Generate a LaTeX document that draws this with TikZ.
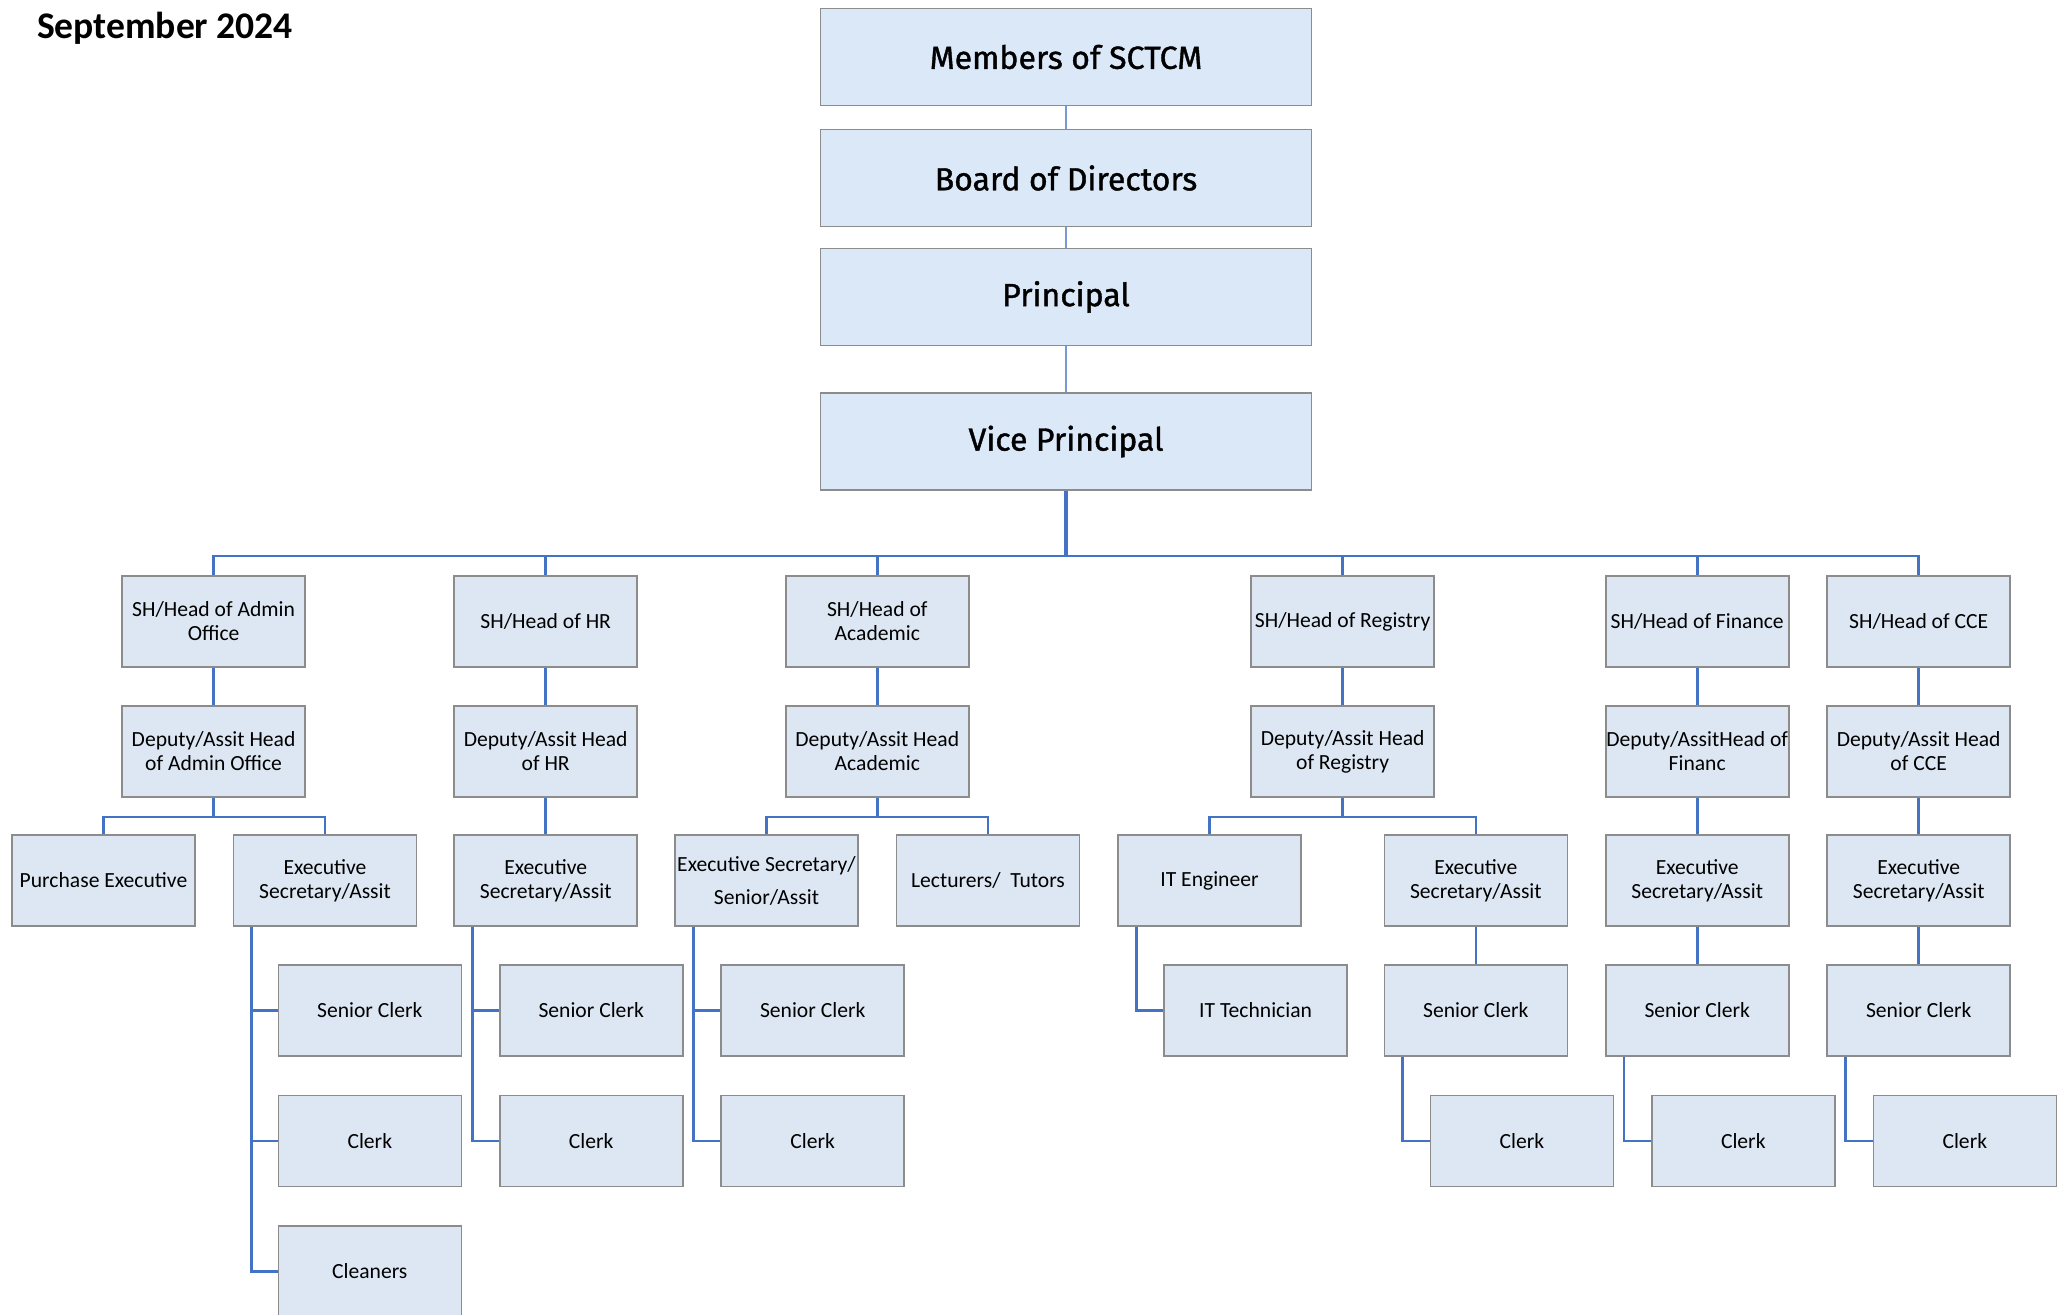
\documentclass[tikz,border=0pt]{standalone}
\usepackage{fontspec}
\setmainfont{Carlito}
\newfontfamily\headfont{Fira Sans}[FakeBold=1.2]
\usetikzlibrary{calc}
\definecolor{topfill}{RGB}{218,232,247}
\definecolor{boxfill}{RGB}{221,231,243}
\definecolor{boxline}{RGB}{140,140,140}
\definecolor{linkblue}{RGB}{68,114,196}
\definecolor{toplinkblue}{RGB}{122,152,214}

\begin{document}
\begin{tikzpicture}[x=0.5pt,y=-0.5pt,
        topbox/.style={draw=boxline, line width=0.8pt, fill=topfill, minimum width=245.5pt,
          minimum height=48.5pt, inner sep=0pt, font=\headfont\fontsize{16}{19}\selectfont},
        box/.style={draw=boxline, line width=0.8pt, fill=boxfill, minimum width=91.5pt,
          minimum height=45.5pt, inner sep=0pt, align=center, font=\fontsize{10.8}{12}\selectfont},
        toplink/.style={draw=toplinkblue, line width=0.6pt},
        link/.style={draw=linkblue, line width=1.3pt}]
        \useasboundingbox (0,0) rectangle (2067,1314);
        % Title
        \node[anchor=west, font=\bfseries\fontsize{18.8}{22}\selectfont] (title) at (30,28) {September 2024};
        % Top of the chart
        \node[topbox] (members) at (1066,57) {Members of SCTCM};
        \node[topbox] (board) at (1066,178) {Board of Directors};
        \node[topbox] (principal) at (1066,297) {Principal};
        \node[topbox] (vp) at (1066,441.5) {Vice Principal};
        % Heads of sections
        \node[box] (admin) at (213.6,621.5) {SH/Head of Admin\\Office};
        \node[box] (hr) at (545.7,621.5) {SH/Head of HR};
        \node[box] (acad) at (877.3,621.5) {SH/Head of\\Academic};
        \node[box] (reg) at (1342.6,621.5) {SH/Head of Registry};
        \node[box] (fin) at (1697.2,621.5) {SH/Head of Finance};
        \node[box] (cce) at (1918.7,621.5) {SH/Head of CCE};
        % Deputies
        \node[box] (admindep) at (213.6,751.4) {Deputy/Assit Head\\of Admin Office};
        \node[box] (hrdep) at (545.7,751.4) {Deputy/Assit Head\\of HR};
        \node[box] (acaddep) at (877.3,751.4) {Deputy/Assit Head\\Academic};
        \node[box] (regdep) at (1342.6,751.4) {Deputy/Assit Head\\of Registry};
        \node[box] (findep) at (1697.2,751.4) {Deputy/AssitHead of\\Financ};
        \node[box] (ccedep) at (1918.7,751.4) {Deputy/Assit Head\\of CCE};
        % Third row
        \node[box] (purch) at (103.5,880.5) {Purchase Executive};
        \node[box] (adminexec) at (325,880.5) {Executive\\Secretary/Assit};
        \node[box] (hrexec) at (545.7,880.5) {Executive\\Secretary/Assit};
        \node[box, font=\fontsize{10.8}{16.5}\selectfont] (acadexec) at (766.5,880.5) {Executive Secretary/\\Senior/Assit};
        \node[box] (lect) at (988,880.5) {Lecturers/\ \ Tutors};
        \node[box] (iteng) at (1209.5,880.5) {IT Engineer};
        \node[box] (regexec) at (1475.8,880.5) {Executive\\Secretary/Assit};
        \node[box] (finexec) at (1697.2,880.5) {Executive\\Secretary/Assit};
        \node[box] (cceexec) at (1918.7,880.5) {Executive\\Secretary/Assit};
        % Senior clerks
        \node[box] (adminsc) at (369.8,1010.4) {Senior Clerk};
        \node[box] (hrsc) at (591.2,1010.4) {Senior Clerk};
        \node[box] (acadsc) at (812.7,1010.4) {Senior Clerk};
        \node[box] (ittech) at (1255.6,1010.4) {IT Technician};
        \node[box] (regsc) at (1475.8,1010.4) {Senior Clerk};
        \node[box] (finsc) at (1697.2,1010.4) {Senior Clerk};
        \node[box] (ccesc) at (1918.7,1010.4) {Senior Clerk};
        % Clerks
        \node[box] (adminclerk) at (369.8,1140.9) {Clerk};
        \node[box] (hrclerk) at (591.2,1140.9) {Clerk};
        \node[box] (acadclerk) at (812.7,1140.9) {Clerk};
        \node[box] (regclerk) at (1521.9,1140.9) {Clerk};
        \node[box] (finclerk) at (1743.3,1140.9) {Clerk};
        \node[box] (cceclerk) at (1964.8,1140.9) {Clerk};
        \node[box] (cleaners) at (369.8,1271.4) {Cleaners};
        %
        % Links between the top boxes
        \draw[toplink] (members) -- (board);
        \draw[toplink] (board) -- (principal);
        \draw[toplink] (principal) -- (vp);
        % Links to the heads
        \coordinate (bus) at (1066,556);
        \draw[link, line width=1.6pt] (vp) -- (bus);
        \foreach \n in {admin,hr,acad,reg,fin,cce}
          \draw[link] (bus) -| (\n);
        \foreach \n in {admin,hr,acad,reg,fin,cce}
          \draw[link] (\n) -- (\n dep);
        % Branches below the deputies
        \coordinate (adminsub) at (213.6,817);
        \coordinate (acadsub) at (877.3,817);
        \coordinate (regsub) at (1342.6,817);
        \draw[link] (admindep) -- (adminsub);
        \draw[link] (adminsub) -| (purch);
        \draw[link] (adminsub) -| (adminexec);
        \draw[link] (acaddep) -- (acadsub);
        \draw[link] (acadsub) -| (acadexec);
        \draw[link] (acadsub) -| (lect);
        \draw[link] (regdep) -- (regsub);
        \draw[link] (regsub) -| (iteng);
        \draw[link] (regsub) -| (regexec);
        \draw[link] (hrdep) -- (hrexec);
        \draw[link] (findep) -- (finexec);
        \draw[link] (ccedep) -- (cceexec);
        \draw[link] (regexec) -- (regsc);
        \draw[link] (finexec) -- (finsc);
        \draw[link] (cceexec) -- (ccesc);
        % Elbow links
        \foreach \p/\c in {adminexec/adminsc,adminexec/adminclerk,adminexec/cleaners,
            hrexec/hrsc,hrexec/hrclerk,acadexec/acadsc,acadexec/acadclerk,
            iteng/ittech,regsc/regclerk,finsc/finclerk,ccesc/cceclerk}
          \draw[link] ($(\p.south west)+(19,0)$) |- (\c.west);
\end{tikzpicture}
\end{document}
